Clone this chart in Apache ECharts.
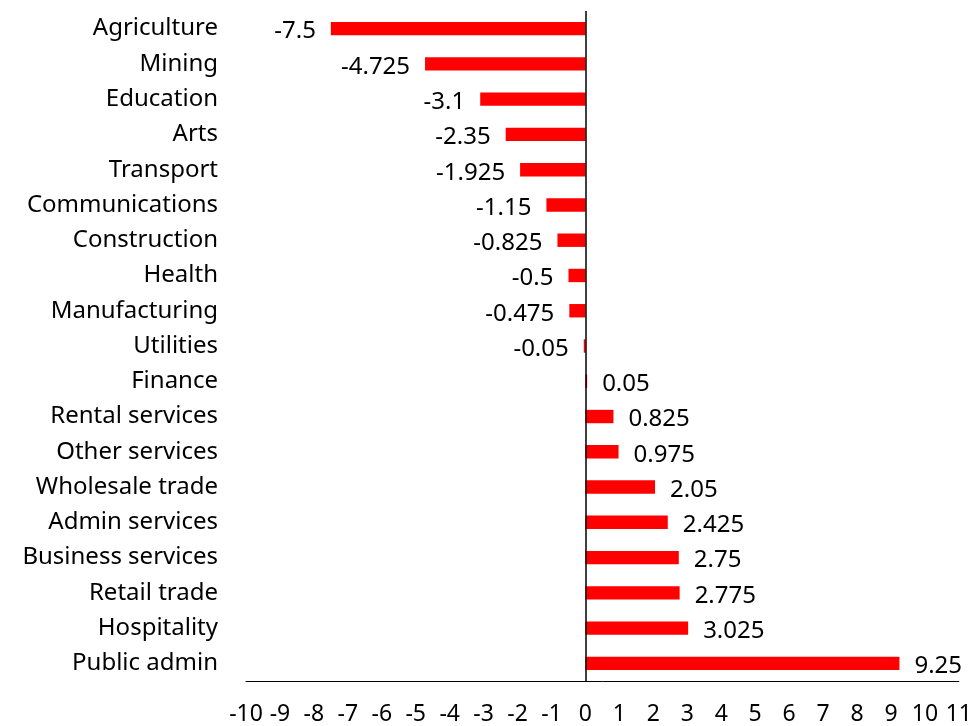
<!DOCTYPE html>
<html>
<head>
<meta charset="utf-8">
<script src="https://cdn.jsdelivr.net/npm/echarts@6/dist/echarts.min.js"></script>
<style>
  html, body { margin: 0; padding: 0; background: #fff; }
  #chart { width: 975px; height: 726px; }
</style>
</head>
<body>
<div id="chart"></div>
<script>
const categories = [
  "Agriculture", "Mining", "Education", "Arts", "Transport", "Communications",
  "Construction", "Health", "Manufacturing", "Utilities", "Finance",
  "Rental services", "Other services", "Wholesale trade", "Admin services",
  "Business services", "Retail trade", "Hospitality", "Public admin"
];
const values = [
  -7.5, -4.725, -3.1, -2.35, -1.925, -1.15, -0.825, -0.5, -0.475, -0.05,
  0.05, 0.825, 0.975, 2.05, 2.425, 2.75, 2.775, 3.025, 9.25
];

const font = "Noto Sans";
const chart = echarts.init(document.getElementById("chart"));

const option = {
  animation: false,
  grid: { left: 246, right: 15, top: 11, bottom: 45, containLabel: false },
  xAxis: {
    type: "value",
    min: -10,
    max: 11,
    interval: 1,
    axisLine: { show: true, onZero: false, lineStyle: { color: "#000", width: 1 } },
    axisTick: { show: false },
    splitLine: { show: false },
    axisLabel: { color: "#000", fontFamily: font, fontSize: 23, margin: 22 }
  },
  yAxis: {
    type: "category",
    inverse: true,
    data: categories,
    axisLine: { show: false },
    axisTick: { show: false },
    axisLabel: { color: "#000", fontFamily: font, fontSize: 24, margin: 28 }
  },
  series: [{
    type: "bar",
    barWidth: "38%",
    itemStyle: { color: "#ff0000" },
    data: values.map(v => ({
      value: v,
      label: {
        show: true,
        position: v < 0 ? "left" : "right",
        distance: 15,
        color: "#000",
        fontFamily: font,
        fontSize: 24,
        offset: [0, 3]
      }
    })),
    markLine: {
      silent: true,
      symbol: "none",
      label: { show: false },
      lineStyle: { color: "#000", type: "solid", width: 1.5 },
      data: [{ xAxis: 0 }]
    }
  }]
};
chart.setOption(option);
</script>
</body>
</html>
